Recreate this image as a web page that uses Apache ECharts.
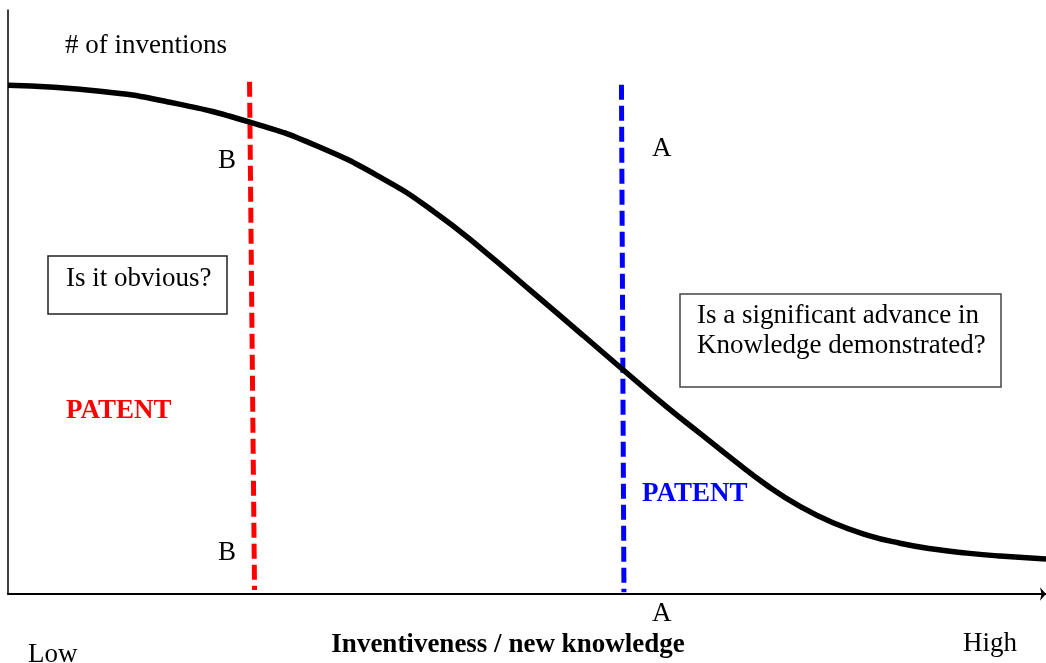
<!DOCTYPE html>
<html>
<head>
<meta charset="utf-8">
<script src="https://cdn.jsdelivr.net/npm/echarts@6/dist/echarts.min.js"></script>
<style>
  html, body { margin: 0; padding: 0; background: #fff; }
  #chart { width: 1046px; height: 663px; }
</style>
</head>
<body>
<div id="chart"></div>
<script>
// curve: # of inventions vs inventiveness (0-100 scale both ways)
var curveX = [0, 8.86, 15.32, 23.31, 29.77, 36.13, 40.94, 45.76, 50.58, 55.39, 59.25, 63.49, 66.67, 69.85, 73.12, 76.3, 79.48, 82.76, 85.93, 89.11, 92.39, 95.57, 100];
var curveY = [87.1, 86.1, 84.3, 80.8, 76.7, 71.1, 65.6, 58.9, 51.6, 44.3, 38.4, 32.0, 27.5, 23.0, 18.6, 15.0, 12.2, 10.1, 8.7, 7.7, 7.0, 6.5, 6.0];

// threshold B (obviousness) and A (significant advance)
var lineBX = [23.27, 23.75];
var lineBY = [87.7, 0.7];
var lineAX = [59.1, 59.34];
var lineAY = [87.2, 0.3];

var yTitle = '# of inventions';
var xTitle = 'Inventiveness / new knowledge';
var xEnds = ['Low', 'High'];
var questionB = 'Is it obvious?';
var questionA = ['Is a significant advance in', 'Knowledge demonstrated?'];
var patentText = 'PATENT';

function pairs(xs, ys) {
  return xs.map(function (x, i) { return [x, ys[i]]; });
}

var SERIF = '"Liberation Serif", "Times New Roman", serif';
function txt(s, x, y, opts) {
  opts = opts || {};
  return {
    type: 'text',
    z: 10,
    style: {
      text: s, x: x, y: y,
      font: (opts.bold ? 'bold ' : '') + (opts.size || 27) + 'px ' + SERIF,
      fill: opts.color || '#000',
      align: opts.align || 'left', textAlign: opts.align || 'left',
      verticalAlign: 'middle', textVerticalAlign: 'middle'
    }
  };
}

var chart = echarts.init(document.getElementById('chart'));
chart.setOption({
  backgroundColor: '#fff',
  animation: false,
  grid: { left: 8, right: 0, top: 10, bottom: 69 },
  xAxis: {
    type: 'value', min: 0, max: 100,
    axisLine: { show: true, symbol: ['none', 'arrow'], symbolSize: [10, 6], lineStyle: { color: '#000', width: 2 } },
    axisTick: { show: false }, axisLabel: { show: false }, splitLine: { show: false }
  },
  yAxis: {
    type: 'value', min: 0, max: 100,
    axisLine: { show: true, lineStyle: { color: '#000', width: 1.5 } },
    axisTick: { show: false }, axisLabel: { show: false }, splitLine: { show: false }
  },
  series: [
    {
      type: 'line', data: pairs(lineBX, lineBY), symbol: 'none',
      lineStyle: { color: '#ff0000', width: 5, type: [15, 6] }, z: 3
    },
    {
      type: 'line', data: pairs(lineAX, lineAY), symbol: 'none',
      lineStyle: { color: '#0000ff', width: 5, type: [15, 6] }, z: 3
    },
    {
      type: 'line', data: pairs(curveX, curveY), symbol: 'none', smooth: 0.5,
      lineStyle: { color: '#000', width: 5.5 }, z: 4
    }
  ],
  graphic: [
    txt(yTitle, 65, 46),
    txt('B', 218, 161),
    txt('B', 218, 553),
    txt('A', 652, 149),
    txt('A', 652, 614),
    {
      type: 'rect', shape: { x: 48, y: 256, width: 179, height: 58 },
      style: { fill: '#fff', stroke: '#222', lineWidth: 1.5 }, z: 9
    },
    txt(questionB, 66, 279),
    {
      type: 'rect', shape: { x: 680, y: 294, width: 321, height: 93 },
      style: { fill: '#fff', stroke: '#444', lineWidth: 1.5 }, z: 9
    },
    txt(questionA[0], 697, 316),
    txt(questionA[1], 697, 346),
    txt(patentText, 66, 411, { bold: true, color: '#ff0000' }),
    txt(patentText, 642, 494, { bold: true, color: '#0000ff' }),
    txt(xTitle, 508, 645, { bold: true, align: 'center' }),
    txt(xEnds[0], 28, 655),
    txt(xEnds[1], 963, 644)
  ]
});
</script>
</body>
</html>
